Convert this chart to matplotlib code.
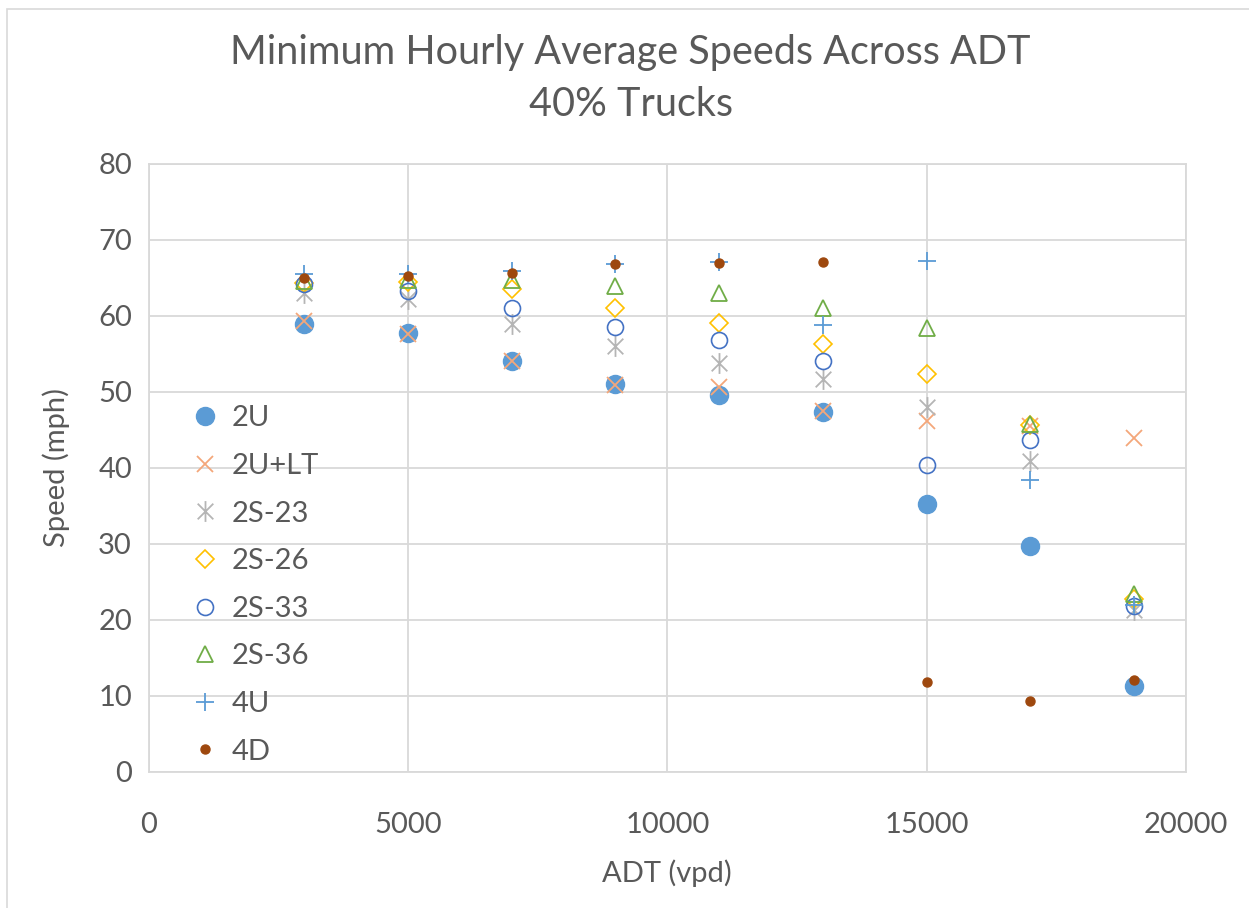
"""
Minimum hourly average speeds across ADT, 40% trucks -- scatter by facility type.
"""

import numpy as np
import matplotlib
matplotlib.use("Agg")
import matplotlib.pyplot as plt
from matplotlib.path import Path
from matplotlib.patches import Rectangle

plt.rcParams["font.family"] = ["Lato", "DejaVu Sans"]

adt = [3000, 5000, 7000, 9000, 11000, 13000, 15000, 17000, 19000]

speed_2u    = [59.0, 57.7, 54.1, 51.0, 49.6, 47.4, 35.3, 29.8, 11.3]
speed_2ult  = [59.3, 57.6, 54.1, 50.9, 50.6, 47.5, 46.2, 45.5, 43.9]
speed_2s23  = [63.0, 62.2, 58.9, 56.0, 53.8, 51.7, 48.0, 40.9, 21.3]
speed_2s26  = [64.3, 64.5, 63.5, 61.1, 59.1, 56.3, 52.4, 45.7, 22.8]
speed_2s33  = [64.2, 63.3, 61.1, 58.5, 56.9, 54.1, 40.4, 43.7, 21.8]
speed_2s36  = [64.6, 64.8, 64.8, 63.9, 63.0, 61.1, 58.4, 45.8, 23.4]
speed_4u    = [65.5, 65.5, 65.9, 66.8, 67.1, 58.8, 67.2, 38.4, 22.0]
speed_4d    = [65.0, 65.2, 65.7, 66.8, 67.0, 67.1, 11.9, 9.4, 12.1]

# Excel-style star: vertical bar plus an X
star = Path([(0, -1), (0, 1), (-0.75, -0.75), (0.75, 0.75), (-0.75, 0.75), (0.75, -0.75)],
            [Path.MOVETO, Path.LINETO, Path.MOVETO, Path.LINETO, Path.MOVETO, Path.LINETO])

SERIES = [
    ("2U",     speed_2u,   dict(marker="o", ms=13, mfc="#5B9BD5", mec="#5B9BD5")),
    ("2U+LT",  speed_2ult, dict(marker="x", ms=12, mec="#F4A77A", mew=1.3)),
    ("2S-23",  speed_2s23, dict(marker=star, ms=15, mec="#B5B5B5", mew=1.3)),
    ("2S-26",  speed_2s26, dict(marker="D", ms=9, mfc="none", mec="#FFC000", mew=1.2)),
    ("2S-33",  speed_2s33, dict(marker="o", ms=11.5, mfc="none", mec="#4472C4", mew=1.2)),
    ("2S-36",  speed_2s36, dict(marker="^", ms=12, mfc="none", mec="#70AD47", mew=1.3)),
    ("4U",     speed_4u,   dict(marker="+", ms=13, mec="#5B9BD5", mew=1.3)),
    ("4D",     speed_4d,   dict(marker="o", ms=6.5, mfc="#9E480E", mec="#9E480E")),
]

TXT = "#595959"
GRID = "#D9D9D9"

fig = plt.figure(figsize=(12.49, 9.08), dpi=100)
fig.patches.append(Rectangle((7 / 1249, -0.1), 1.2, 1.09,
                             transform=fig.transFigure, fill=False,
                             ec="#D9D9D9", lw=1.2))
ax = fig.add_axes([0.119, 0.1498, 0.8306, 0.6696])

for name, vals, style in SERIES:
    ax.plot(adt, vals, ls="none", label=name, **style)

ax.set_xlim(0, 20000)
ax.set_ylim(0, 80)
ax.set_xticks(np.arange(0, 20001, 5000))
ax.set_yticks(np.arange(0, 81, 10))
ax.grid(True, color=GRID, lw=1.3)
ax.set_axisbelow(True)
for s in ax.spines.values():
    s.set_color(GRID)
    s.set_linewidth(1.3)
ax.tick_params(length=0, labelsize=21, labelcolor=TXT, pad=12)
ax.tick_params(axis="x", pad=29)

ax.set_xlabel("ADT (vpd)", fontsize=21, color=TXT, labelpad=15)
ax.set_ylabel("Speed (mph)", fontsize=21, color=TXT, labelpad=20)

fig.text(0.505, 0.942, "Minimum Hourly Average Speeds Across ADT",
         ha="center", va="center", fontsize=28.5, color=TXT)
fig.text(0.505, 0.885, "40% Trucks",
         ha="center", va="center", fontsize=28.5, color=TXT)

ax.legend(loc="upper left", bbox_to_anchor=(0.032, 0.622), frameon=False,
          fontsize=21, labelcolor=TXT, handlelength=0.8, handletextpad=0.5,
          labelspacing=0.74, borderaxespad=0)

fig.savefig("out.png", dpi=100)
